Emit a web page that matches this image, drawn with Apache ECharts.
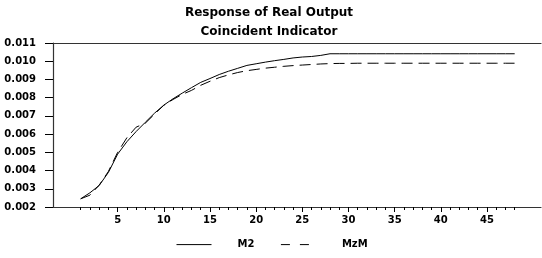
<!DOCTYPE html>
<html>
<head>
<meta charset="utf-8">
<script src="https://cdn.jsdelivr.net/npm/echarts@6/dist/echarts.min.js"></script>
<style>
html,body{margin:0;padding:0;background:#fff;}
#chart{width:542px;height:258px;}
</style>
</head>
<body>
<div id="chart"></div>
<script>
// Horizon (periods)
var periods = [];
for (var i = 1; i <= 48; i++) periods.push(i);

// Response of real output (coincident indicator) to M2 shock
var m2Values = [
  0.00245, 0.00278, 0.00318, 0.00390, 0.00490, 0.00558, 0.00614, 0.00665,
  0.00715, 0.00759, 0.00794, 0.00825, 0.00855, 0.00884, 0.00905, 0.00927,
  0.00945, 0.00961, 0.00977, 0.00986, 0.00995, 0.01003, 0.01010, 0.01018,
  0.01023, 0.01026, 0.01032, 0.01041, 0.01041, 0.01041, 0.01041, 0.01041,
  0.01041, 0.01041, 0.01041, 0.01041, 0.01041, 0.01041, 0.01041, 0.01041,
  0.01041, 0.01041, 0.01041, 0.01041, 0.01041, 0.01041, 0.01041, 0.01041
];

// Response to MZM shock
var mzmValues = [
  0.00245, 0.00265, 0.00320, 0.00395, 0.00500, 0.00580, 0.00638, 0.00660,
  0.00710, 0.00758, 0.00790, 0.00818, 0.00840, 0.00868, 0.00890, 0.00910,
  0.00925, 0.00938, 0.00948, 0.00955, 0.00962, 0.00967, 0.00972, 0.00976,
  0.00979, 0.00982, 0.00985, 0.00987, 0.00988, 0.00988, 0.00989, 0.00989,
  0.00989, 0.00989, 0.00989, 0.00989, 0.00989, 0.00989, 0.00989, 0.00989,
  0.00989, 0.00989, 0.00989, 0.00989, 0.00989, 0.00989, 0.00989, 0.00989
];

var xLabelValues = [5, 10, 15, 20, 25, 30, 35, 40, 45];
var yTickLabels = ['0.002','0.003','0.004','0.005','0.006','0.007','0.008','0.009','0.010','0.011'];

var FONT = 'DejaVu Sans';
function pairs(vals) {
  return periods.map(function (p, i) { return [p, vals[i]]; });
}

var chart = echarts.init(document.getElementById('chart'), null, {renderer: 'canvas'});
var gridBox = {left: 53, right: 1, top: 43, bottom: 51, containLabel: false};
var axisLineStyle = {color: '#333', width: 1.2};

chart.setOption({
  animation: false,
  backgroundColor: '#fff',
  title: [{
    text: 'Response of Real Output',
    subtext: 'Coincident Indicator',
    left: 264,
    top: 2,
    textAlign: 'center',
    itemGap: 7,
    textStyle: {fontFamily: FONT, fontSize: 12, fontWeight: 'bold', color: '#000'},
    subtextStyle: {fontFamily: FONT, fontSize: 12, fontWeight: 'bold', color: '#000'}
  }],
  legend: {
    left: 171,
    top: 234,
    itemWidth: 35,
    itemHeight: 14,
    itemGap: 26,
    itemStyle: {opacity: 0},
    textStyle: {fontFamily: FONT, fontSize: 10, fontWeight: 'bold', color: '#000', padding: [0, 0, 0, 21]},
    data: [
      {name: 'M2', lineStyle: {width: 1}},
      {name: 'MzM', lineStyle: {width: 1, type: [9, 10]}}
    ]
  },
  grid: [gridBox, gridBox],
  xAxis: [{
    type: 'value', gridIndex: 0, position: 'bottom',
    min: -2, max: 50.85,
    splitLine: {show: false},
    axisLine: {show: true, lineStyle: axisLineStyle},
    axisTick: {show: true, length: 3, customValues: periods, lineStyle: {color: '#000', width: 1}},
    axisLabel: {show: true, customValues: xLabelValues, margin: 8,
      fontFamily: FONT, fontSize: 10, fontWeight: 'bold', color: '#000'}
  }, {
    type: 'value', gridIndex: 0, position: 'top',
    min: -2, max: 50.85,
    splitLine: {show: false},
    axisLine: {show: true, onZero: false, lineStyle: axisLineStyle},
    axisTick: {show: false},
    axisLabel: {show: false}
  }, {
    type: 'value', gridIndex: 1, position: 'bottom',
    min: -2, max: 50.85,
    splitLine: {show: false},
    axisLine: {show: false},
    axisTick: {show: true, length: 5, customValues: xLabelValues, lineStyle: {color: '#000', width: 1}},
    axisLabel: {show: false}
  }],
  yAxis: [{
    type: 'value', gridIndex: 0,
    min: 0.002, max: 0.011, interval: 0.001,
    splitLine: {show: false},
    axisLine: {show: true, onZero: false, lineStyle: axisLineStyle},
    axisTick: {show: true, length: 8, lineStyle: {color: '#000', width: 1}},
    axisLabel: {show: true, margin: 17, fontFamily: FONT, fontSize: 10, fontWeight: 'bold', color: '#000',
      formatter: function (v) { var idx = Math.round((v - 0.002) / 0.001); return yTickLabels[idx]; }}
  }, {
    type: 'value', gridIndex: 1, show: false,
    min: 0.002, max: 0.011
  }],
  series: [{
    name: 'M2', type: 'line', xAxisIndex: 0, yAxisIndex: 0,
    data: pairs(m2Values), symbol: 'none', smooth: false,
    lineStyle: {color: '#000', width: 1, type: 'solid'},
    itemStyle: {color: '#000'}
  }, {
    name: 'MzM', type: 'line', xAxisIndex: 0, yAxisIndex: 0,
    data: pairs(mzmValues), symbol: 'none', smooth: false,
    lineStyle: {color: '#000', width: 1, type: [11, 6]},
    itemStyle: {color: '#000'}
  }]
});
</script>
</body>
</html>
